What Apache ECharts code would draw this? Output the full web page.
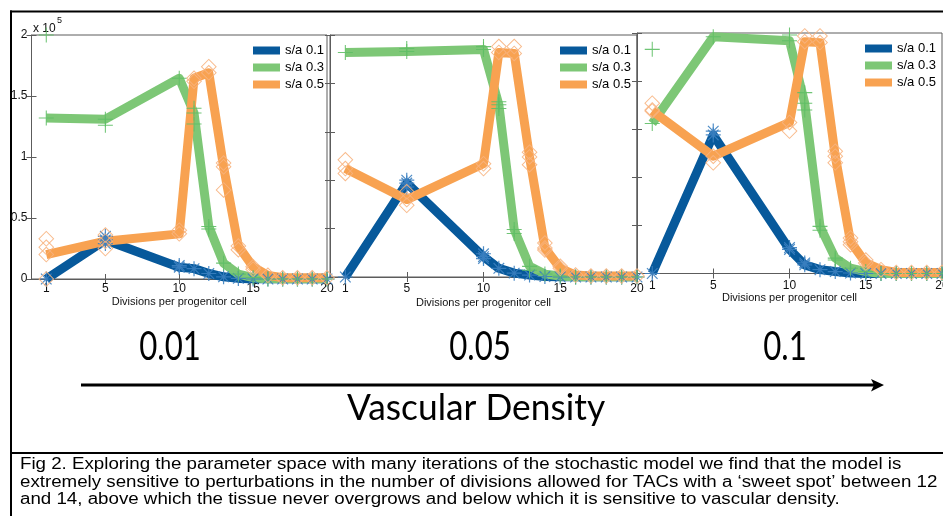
<!DOCTYPE html>
<html><head><meta charset="utf-8">
<script src="https://cdn.jsdelivr.net/npm/echarts@6/dist/echarts.min.js"></script>
<style>html,body{margin:0;padding:0;background:#fff}#c{width:943px;height:516px}</style>
</head><body><div id="c"></div>
<script>
// x positions (divisions per progenitor cell) where runs were recorded
const xs = [1, 5, 10, 11, 12, 13, 14, 15, 16, 17, 18, 19, 20];
const seriesNames = ['s/a 0.1', 's/a 0.3', 's/a 0.5'];
const densityLabels = ['0.01', '0.05', '0.1'];
const xTicks = [1, 5, 10, 15, 20];
const axisTitle = 'Divisions per progenitor cell';
const bigLabel = 'Vascular Density';
const captionLines = [
  'Fig 2. Exploring the parameter space with many iterations of the stochastic model we find that the model is',
  'extremely sensitive to perturbations in the number of divisions allowed for TACs with a \u2018sweet spot\u2019 between 12',
  'and 14, above which the tissue never overgrows and below which it is sensitive to vascular density.'
];
// mean values (units of 1e5) per panel
const p1Blue   = [0, 0.32, 0.097, 0.085, 0.045, 0.018, 0.005, 0, 0, 0, 0, 0, 0];
const p1Green  = [1.32, 1.31, 1.645, 1.36, 0.43, 0.13, 0.04, 0.012, 0, 0, 0, 0, 0];
const p1Orange = [0.20, 0.31, 0.37, 1.645, 1.69, 0.92, 0.27, 0.10, 0.03, 0.01, 0.01, 0.01, 0.01];
const p2Blue   = [0, 0.97, 0.21, 0.09, 0.04, 0.02, 0.005, 0, 0, 0, 0, 0, 0];
const p2Green  = [2.32, 2.33, 2.35, 1.78, 0.49, 0.11, 0.03, 0.01, 0, 0, 0, 0, 0];
const p2Orange = [1.12, 0.80, 1.17, 2.32, 2.31, 1.24, 0.30, 0.09, 0.02, 0.01, 0.01, 0.01, 0.01];
const p3Blue   = [0, 1.44, 0.25, 0.09, 0.04, 0.02, 0.005, 0, 0, 0, 0, 0, 0];
const p3Green  = [1.56, 2.46, 2.42, 1.77, 0.49, 0.16, 0.055, 0.02, 0, 0, 0, 0, 0];
const p3Orange = [1.69, 1.22, 1.57, 2.41, 2.40, 1.22, 0.33, 0.11, 0.04, 0.01, 0.01, 0.01, 0.01];
// individual run markers that sit away from the mean line
const p1BlueRuns   = [[5, 0.35], [5, 0.29], [10, 0.11]];
const p1GreenRuns  = [[1, 2.0], [5, 1.26], [11, 1.40], [11, 1.27], [12, 0.41]];
const p1OrangeRuns = [[1, 0.33], [1, 0.26], [1, 0.0], [5, 0.36], [5, 0.25], [10, 0.40], [11, 1.62], [12, 1.74], [13, 0.95], [13, 0.73], [14, 0.24], [15, 0.08]];
const p2BlueRuns   = [[5, 1.0], [5, 0.93], [10, 0.24], [10, 0.19]];
const p2GreenRuns  = [[5, 2.36], [10, 2.38], [11, 1.81], [11, 1.74], [12, 0.45], [13, 0.07]];
const p2OrangeRuns = [[1, 1.21], [1, 1.07], [5, 0.88], [5, 0.74], [10, 1.12], [11, 2.38], [12, 2.38], [13, 1.29], [13, 1.16], [14, 0.35], [14, 0.28], [15, 0.11]];
const p3BlueRuns   = [[5, 1.48], [10, 0.27], [11, 0.11]];
const p3GreenRuns  = [[1, 2.33], [10, 2.48], [11, 1.88], [11, 1.70], [12, 0.45], [13, 0.14]];
const p3OrangeRuns = [[1, 1.77], [1, 1.70], [5, 1.15], [10, 1.48], [11, 2.47], [12, 2.47], [13, 1.27], [13, 1.15], [14, 0.37], [14, 0.30], [15, 0.14]];

const panels = [
  {lines: [p1Blue, p1Green, p1Orange], runs: [p1BlueRuns, p1GreenRuns, p1OrangeRuns], ymax: 2,
   grid: {left: 31.5, width: 295.5, top: 35, height: 244}, legendLeft: 253, legendTop: 44, labelMargin: 4, nameGap: 17, showY: true},
  {lines: [p2Blue, p2Green, p2Orange], runs: [p2BlueRuns, p2GreenRuns, p2OrangeRuns], ymax: 2.5,
   grid: {left: 330, width: 307, top: 35, height: 242}, legendLeft: 560, legendTop: 44, labelMargin: 6, nameGap: 20, showY: false},
  {lines: [p3Blue, p3Green, p3Orange], runs: [p3BlueRuns, p3GreenRuns, p3OrangeRuns], ymax: 2.5,
   grid: {left: 637, width: 305, top: 33, height: 240.5}, legendLeft: 865, legendTop: 42, labelMargin: 6, nameGap: 19, showY: false}
];

const lineColors = ['#07599b', '#7dc776', '#f8a251'];
const markColors = ['#3b7fc0', '#5fbf66', '#f7b27e'];
const starPath = 'path://M-0.8,-10 L0.8,-10 L0.8,10 L-0.8,10 Z M-10,-0.8 L10,-0.8 L10,0.8 L-10,0.8 Z M-7.64,-6.51 L-6.51,-7.64 L7.64,6.51 L6.51,7.64 Z M-7.64,6.51 L6.51,-7.64 L7.64,-6.51 L-6.51,7.64 Z';
const plusPath = 'path://M-0.7,-10 L0.7,-10 L0.7,10 L-0.7,10 Z M-10,-0.7 L10,-0.7 L10,0.7 L-10,0.7 Z';
const diamondPath = 'path://M0,-10 L10,0 L0,10 L-10,0 Z M0,-8.3 L-8.3,0 L0,8.3 L8.3,0 Z';
const markSymbols = [starPath, plusPath, diamondPath];
const markSizes = [15, 15, 16];

const FONT = 'Liberation Sans, Arial, Helvetica, sans-serif';
const frameColor = '#5c5c5c';

const grids = [], xAxes = [], yAxes = [], series = [], legends = [];
panels.forEach((p, i) => {
  grids.push(Object.assign({show: true, borderColor: frameColor, borderWidth: 1, backgroundColor: 'transparent',
    containLabel: false, outerBoundsMode: 'none'}, p.grid));
  xAxes.push({
    type: 'value', gridIndex: i, min: 0, max: 20, position: 'bottom',
    name: axisTitle, nameLocation: 'middle', nameGap: p.nameGap,
    nameTextStyle: {fontFamily: FONT, fontSize: 11, color: '#111'},
    axisLine: {show: true, lineStyle: {color: frameColor, width: 1}},
    axisTick: {show: true, inside: true, length: 5, customValues: xTicks, lineStyle: {color: frameColor}},
    axisLabel: {show: true, customValues: xTicks, margin: p.labelMargin, fontFamily: FONT, fontSize: 12, color: '#111'},
    splitLine: {show: false}
  });
  yAxes.push({
    type: 'value', gridIndex: i, min: 0, max: p.ymax, interval: 0.5, position: 'left',
    axisLine: {show: true, lineStyle: {color: frameColor, width: 1}},
    axisTick: {show: true, inside: true, length: 5, lineStyle: {color: frameColor}},
    axisLabel: {show: p.showY, margin: 4, fontFamily: FONT, fontSize: 12, color: '#111'},
    splitLine: {show: false}
  });
});
panels.forEach((p, i) => {
  xAxes.push({
    type: 'value', gridIndex: i, min: 0, max: 20, position: 'top',
    axisLine: {show: false},
    axisTick: {show: true, inside: true, length: 5, customValues: xTicks, lineStyle: {color: frameColor}},
    axisLabel: {show: false}, splitLine: {show: false}
  });
  yAxes.push({
    type: 'value', gridIndex: i, min: 0, max: p.ymax, interval: 0.5, position: 'right',
    axisLine: {show: false},
    axisTick: {show: true, inside: true, length: 5, lineStyle: {color: frameColor}},
    axisLabel: {show: false}, splitLine: {show: false}
  });
});
panels.forEach((p, i) => {
  p.lines.forEach((vals, k) => {
    series.push({
      type: 'line', name: seriesNames[k], xAxisIndex: i, yAxisIndex: i,
      data: xs.map((x, j) => [x, vals[j]]),
      showSymbol: false, symbol: 'none', animation: false, z: 2 + k,
      lineStyle: {color: lineColors[k], width: 9, join: 'round', cap: 'butt'},
      itemStyle: {color: lineColors[k]}
    });
  });
  p.lines.forEach((vals, k) => {
    series.push({
      type: 'scatter', name: 'runs' + k, xAxisIndex: i, yAxisIndex: i,
      data: xs.map((x, j) => [x, vals[j]]).concat(p.runs[k]),
      symbol: markSymbols[k], symbolSize: markSizes[k], animation: false, z: 6,
      clip: false, silent: true,
      itemStyle: {color: markColors[k], opacity: 0.9}
    });
  });
  legends.push({
    orient: 'vertical', left: p.legendLeft, top: p.legendTop, icon: 'rect', padding: 0,
    itemWidth: 27, itemHeight: 8, itemGap: 4, selectedMode: false,
    textStyle: {fontFamily: FONT, fontSize: 13, color: '#000'},
    data: seriesNames
  });
});

const graphics = [
  // frames
  {type: 'line', shape: {x1: 10, y1: 11.5, x2: 943, y2: 11.5}, style: {stroke: '#000', lineWidth: 2}},
  {type: 'line', shape: {x1: 11, y1: 10.5, x2: 11, y2: 516}, style: {stroke: '#000', lineWidth: 2}},
  {type: 'line', shape: {x1: 10, y1: 453, x2: 943, y2: 453}, style: {stroke: '#000', lineWidth: 2}},
  // x 10^5
  {type: 'text', x: 33, y: 23, style: {text: 'x 10', font: '12px ' + FONT, fill: '#111'}},
  {type: 'text', x: 57, y: 16, style: {text: '5', font: '9px ' + FONT, fill: '#111'}},
  // arrow
  {type: 'line', shape: {x1: 81, y1: 385, x2: 876, y2: 385}, style: {stroke: '#000', lineWidth: 3}},
  {type: 'polygon', shape: {points: [[871, 379], [884, 385], [871, 391.5], [874, 385]]}, style: {fill: '#000'}},
  {type: 'text', x: 476, y: 408, scaleX: 0.955, style: {text: bigLabel, font: '37px Lato, sans-serif', fill: '#000', textAlign: 'center', textVerticalAlign: 'middle'}}
];
[170, 480, 785].forEach((cx, i) => {
  graphics.push({type: 'text', x: cx, y: 347, scaleX: 0.78,
    style: {text: densityLabels[i], font: '40px Lato, sans-serif', fill: '#000', textAlign: 'center', textVerticalAlign: 'middle'}});
});
captionLines.forEach((t, i) => {
  graphics.push({type: 'text', x: 20, y: 465 + i * 17.5, scaleX: 1.17,
    style: {text: t, font: '16px ' + FONT, fill: '#000', textAlign: 'left', textVerticalAlign: 'middle'}});
});

const chart = echarts.init(document.getElementById('c'), null, {renderer: 'canvas'});
chart.setOption({
  backgroundColor: '#fff',
  animation: false,
  grid: grids, xAxis: xAxes, yAxis: yAxes, series: series, legend: legends,
  graphic: graphics
});
</script></body></html>
